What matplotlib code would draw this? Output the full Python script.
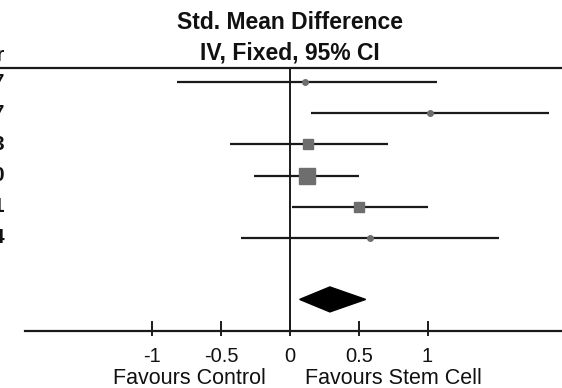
import matplotlib
matplotlib.use('Agg')
import matplotlib.pyplot as plt
from matplotlib.patches import Polygon

# study rows (top to bottom), std. mean difference with 95% CI
years = ['2007', '2007', '2013', '2010', '2011', '2014']
est = [0.11, 1.02, 0.13, 0.12, 0.50, 0.58]
lo = [-0.82, 0.15, -0.44, -0.26, 0.015, -0.36]
hi = [1.07, 1.88, 0.71, 0.50, 1.00, 1.52]
marker = ['o', 'o', 's', 's', 's', 'o']
msize = [4, 4, 7, 11, 7.5, 4]

# pooled estimate (diamond)
pooled = 0.29
pooled_lo = 0.07
pooled_hi = 0.55

ticks = [-1, -0.5, 0, 0.5, 1]
tick_labels = ['-1', '-0.5', '0', '0.5', '1']

fig = plt.figure(figsize=(5.62, 3.88), dpi=100)
ax = fig.add_axes([0, 0, 1, 1])
ax.set_xlim(-2.109, 1.978)
ax.set_ylim(9.81, -2.63)
ax.axis('off')

title_font = ['Liberation Sans Narrow', 'Liberation Sans', 'DejaVu Sans']
body_font = ['Liberation Sans', 'DejaVu Sans']
line_col = '#1a1a1a'

# header
ax.text(0, -1.9, 'Std. Mean Difference', ha='center', va='center',
        fontsize=16.5, fontweight='bold', family=title_font, color='#111111')
ax.text(0, -0.93, 'IV, Fixed, 95% CI', ha='center', va='center',
        fontsize=16.5, fontweight='bold', family=title_font, color='#111111')
ax.text(-2.075, -0.85, 'Year', ha='right', va='center', fontsize=15,
        fontweight='bold', family=body_font, color='#111111')
ax.plot([-2.2, 2.1], [-0.45, -0.45], color=line_col, lw=1.6)

# zero line
ax.plot([0, 0], [-0.45, 7.98], color=line_col, lw=1.4)

for i in range(len(est)):
    ax.plot([lo[i], hi[i]], [i, i], color=line_col, lw=1.6, solid_capstyle='butt')
    ax.plot(est[i], i, marker=marker[i], ms=msize[i], color='#6e6e6e',
            mec='#6e6e6e')
    ax.text(-2.075, i, years[i], ha='right', va='center', fontsize=15,
            fontweight='bold', family=body_font, color='#111111')

# pooled diamond
dy = 6.97
diamond = Polygon([[pooled_lo, dy], [pooled, dy - 0.4], [pooled_hi, dy],
                   [pooled, dy + 0.4]], closed=True, color='black')
ax.add_patch(diamond)

# bottom axis
ax.plot([-1.93, 2.1], [7.98, 7.98], color=line_col, lw=1.6)
for t, lab in zip(ticks, tick_labels):
    ax.plot([t, t], [7.7, 8.1], color=line_col, lw=1.4)
    ax.text(t, 8.8, lab, ha='center', va='center', fontsize=14.5,
            family=body_font, color='#111111')

ax.text(-0.735, 9.5, 'Favours Control', ha='center', va='center',
        fontsize=15.5, family=body_font, color='#111111')
ax.text(0.75, 9.5, 'Favours Stem Cell', ha='center', va='center',
        fontsize=15.5, family=body_font, color='#111111')

fig.savefig('out.png', dpi=100)
